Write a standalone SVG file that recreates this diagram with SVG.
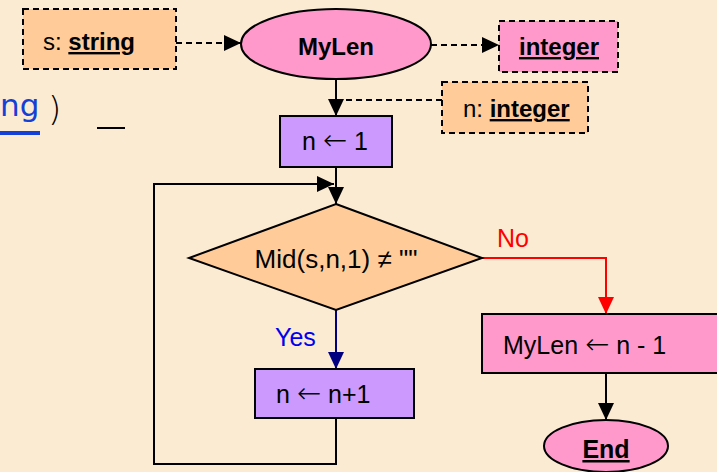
<svg xmlns="http://www.w3.org/2000/svg" width="717" height="472" viewBox="0 0 717 472">
<style>
  text { font-family: "Liberation Sans", Arial, sans-serif; font-size: 25px; fill: #000; }
  .b { font-weight: bold; font-size: 24px; }
  .u { text-decoration: underline; }
  .mid { text-anchor: middle; }
  .arr { font-family: "DejaVu Sans", sans-serif; font-size: 29px; font-weight: 200; }
  .dbox { stroke: #000; stroke-width: 2; stroke-dasharray: 6 4; }
  .sbox { stroke: #000; stroke-width: 2; }
  .orange { fill: #FFCC99; }
  .pink { fill: #FF99CC; }
  .purple { fill: #CC99FF; }
  .ln { fill: none; stroke: #000; stroke-width: 2; }
  .dash { stroke-dasharray: 6 4; }
</style>
<defs>
  <marker id="ah" markerUnits="userSpaceOnUse" markerWidth="18" markerHeight="16" refX="17" refY="8" orient="auto">
    <path d="M0,0 L17,8 L0,16 Z" fill="#000"/>
  </marker>
  <marker id="ahr" markerUnits="userSpaceOnUse" markerWidth="18" markerHeight="16" refX="17" refY="8" orient="auto">
    <path d="M0,0 L17,8 L0,16 Z" fill="#FF0000"/>
  </marker>
  <marker id="ahb" markerUnits="userSpaceOnUse" markerWidth="18" markerHeight="16" refX="17" refY="8" orient="auto">
    <path d="M0,0 L17,8 L0,16 Z" fill="#000080"/>
  </marker>
</defs>
<rect x="0" y="0" width="717" height="472" fill="#FBEBD2"/>

<g id="bg-text">
  <text x="0" y="116" style="font-family: 'DejaVu Sans', Verdana, sans-serif; font-size: 31px; fill: #1440D8;">ng</text>
  <rect x="0" y="131" width="40" height="4" fill="#1440D8"/>
  <text x="48" y="121" style="font-family: 'DejaVu Sans', sans-serif; font-size: 34px; font-weight: 200;">)</text>
  <line x1="97" y1="128" x2="125" y2="128" stroke="#000" stroke-width="2"/>
</g>

<g id="connectors">
  <line class="ln dash" x1="176" y1="43" x2="241" y2="43" marker-end="url(#ah)"/>
  <line class="ln dash" x1="431" y1="45" x2="499" y2="45" marker-end="url(#ah)"/>
  <line class="ln dash" x1="442" y1="100" x2="343" y2="100"/>
  <line class="ln" x1="336" y1="79" x2="336" y2="116" marker-end="url(#ah)"/>
  <line class="ln" x1="336" y1="167" x2="336" y2="204" marker-end="url(#ah)"/>
  <polyline class="ln" points="336,418 336,464 154,464 154,184 334,184" marker-end="url(#ah)"/>
  <line x1="336" y1="310" x2="336" y2="369" stroke="#000080" stroke-width="2" marker-end="url(#ahb)"/>
  <polyline points="482,258 606,258 606,314" fill="none" stroke="#FF0000" stroke-width="2" marker-end="url(#ahr)"/>
  <line class="ln" x1="606" y1="373" x2="606" y2="420" marker-end="url(#ah)"/>
  <text x="275" y="346" style="fill:#0000EE">Yes</text>
  <text x="497" y="247" style="fill:#FF0000">No</text>
</g>

<g id="param-s">
  <rect class="dbox orange" x="23" y="9" width="153" height="60"/>
  <text x="43" y="50" style="font-size:24px">s: <tspan class="b u">string</tspan></text>
</g>

<g id="start">
  <ellipse class="sbox pink" cx="336" cy="44" rx="95" ry="35"/>
  <text class="b mid" x="336" y="55">MyLen</text>
</g>

<g id="return-type">
  <rect class="dbox pink" x="499" y="21" width="119" height="51"/>
  <text class="b u mid" x="559" y="55">integer</text>
</g>

<g id="var-n">
  <rect class="dbox orange" x="442" y="82" width="146" height="51"/>
  <text x="463" y="117" style="font-size:24px">n: <tspan class="b u">integer</tspan></text>
</g>

<g id="init">
  <rect class="sbox purple" x="280" y="116" width="112" height="51"/>
  <text x="302" y="150">n <tspan class="arr">←</tspan> 1</text>
</g>

<g id="decision">
  <polygon class="sbox orange" points="336,204 482,258 336,310 189,258"/>
  <text class="mid" x="336" y="268" style="font-size:26px">Mid(s,n,1) ≠ ""</text>
</g>

<g id="increment">
  <rect class="sbox purple" x="255" y="369" width="159" height="49"/>
  <text x="276" y="403">n <tspan class="arr">←</tspan> n+1</text>
</g>

<g id="assign">
  <rect class="sbox pink" x="482" y="314" width="240" height="59"/>
  <text x="503" y="354">MyLen <tspan class="arr">←</tspan> n - 1</text>
</g>

<g id="end">
  <ellipse class="sbox pink" cx="606" cy="446" rx="62" ry="26"/>
  <text class="b u mid" x="606" y="458" style="font-size:25px">End</text>
</g>
</svg>
